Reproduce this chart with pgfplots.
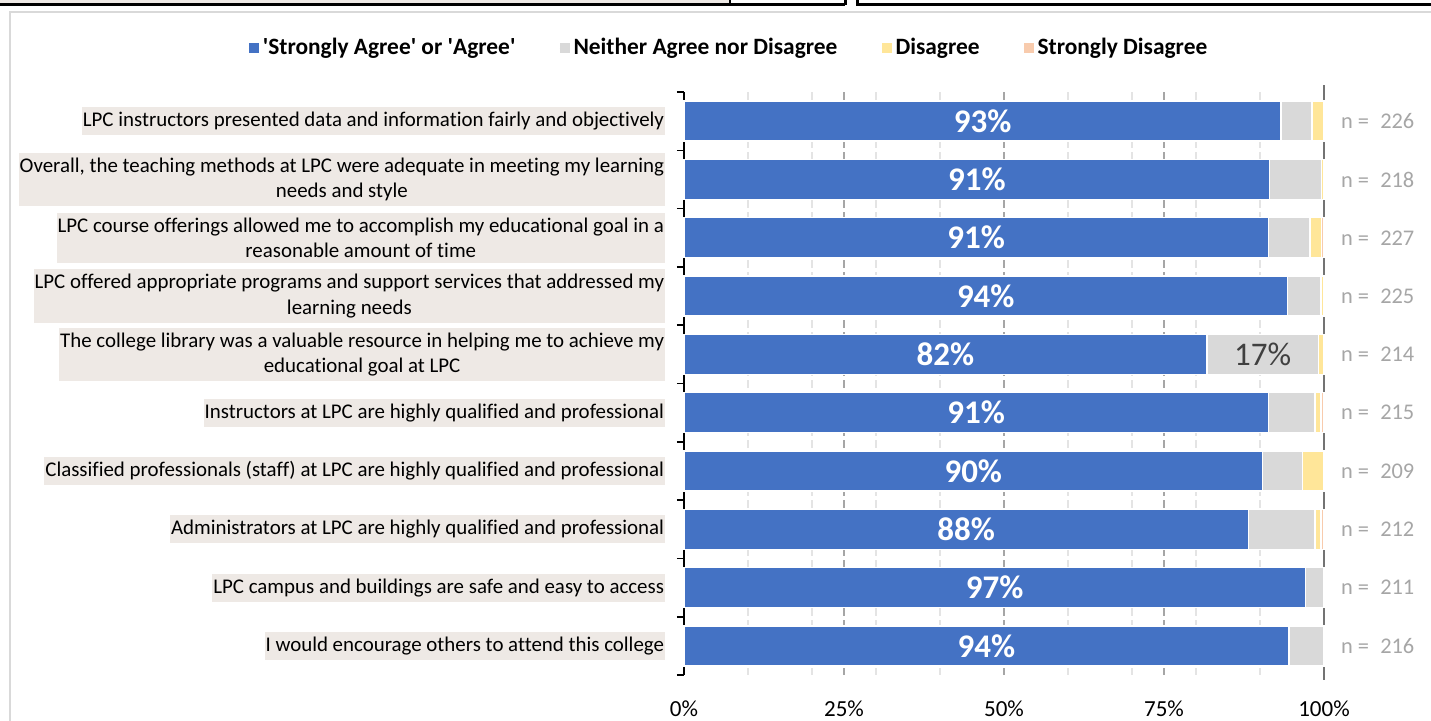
\documentclass[border=0pt]{standalone}
\usepackage{fontspec}
\setmainfont{Carlito}[Ligatures={NoCommon}]
\usepackage{pgfplots}
\pgfplotsset{compat=1.18}
\definecolor{cBlue}{HTML}{4472C4}
\definecolor{cGray}{HTML}{D9D9D9}
\definecolor{cYel}{HTML}{FFE699}
\definecolor{cOra}{HTML}{F8CBAD}
\definecolor{labbg}{HTML}{EEE9E5}
\definecolor{nGray}{HTML}{A6A6A6}
\begin{document}
\begin{tikzpicture}
\useasboundingbox (0,0) rectangle (715.5pt,-360.5pt);
\begin{scope}[x=0.5pt,y=-0.5pt]
  % pieces of neighbouring objects at the top
  \fill[labbg] (0,0) rectangle (730,5);
  \draw[black,line width=1.5pt] (0,5) -- (845,5);
  \draw[black,line width=1pt] (730,0) -- (730,5);
  \draw[black,line width=1.5pt] (845,0) -- (845,5);
  \draw[black,line width=1.5pt] (857,0) -- (857,5) -- (1431,5);
  % chart frame
  \draw[cGray,line width=1pt] (10,721) -- (10,12) -- (1431,12);
\end{scope}
\begin{axis}[
  at={(342pt,-46pt)}, anchor=north west,
  scale only axis, width=320pt, height=291.5pt,
  xbar stacked, bar width=20pt,
  xmin=0, xmax=100, ymin=-0.5, ymax=9.5, y dir=reverse,
  clip=false,
  axis y line*=left, axis x line*=bottom,
  x axis line style={draw=none},
  y axis line style={black, line width=0.8pt},
  xtick={0,25,50,75,100},
  xticklabels={0\%,25\%,50\%,75\%,100\%},
  minor xtick={10,20,30,40,60,70,80,90},
  xmajorgrids, xminorgrids,
  major x grid style={nGray, line width=0.6pt, dash pattern=on 4pt off 2pt},
  minor x grid style={cGray!70, line width=0.6pt, dash pattern=on 4pt off 2pt},
  major x tick style={draw=none}, minor x tick style={draw=none},
  xticklabel style={font=\fontsize{11.5}{13}\selectfont, yshift=-5pt},
  ytick={0,...,9},
  minor ytick={-0.5,0.5,...,9.5},
  major y tick style={draw=none},
  minor y tick style={black, line width=0.8pt},
  minor tick length=3.5pt,
  tick align=outside,
  yticklabels={
    LPC instructors presented data and information fairly and objectively,
    {Overall, the teaching methods at LPC were adequate in meeting my learning\\needs and style},
    LPC course offerings allowed me to accomplish my educational goal in a\\reasonable amount of time,
    LPC offered appropriate programs and support services that addressed my\\learning needs,
    The college library was a valuable resource in helping me to achieve my\\educational goal at LPC,
    Instructors at LPC are highly qualified and professional,
    Classified professionals (staff) at LPC are highly qualified and professional,
    Administrators at LPC are highly qualified and professional,
    LPC campus and buildings are safe and easy to access,
    I would encourage others to attend this college},
  yticklabel style={font=\fontsize{10.45}{12.6}\selectfont, align=center, fill=labbg,
    inner xsep=0.5pt, inner ysep=2.5pt, anchor=east, xshift=-5pt},
  legend columns=4,
  legend style={draw=none, fill=none, at={(0.072,1.075)}, anchor=center,
    font=\bfseries\fontsize{11.7}{13}\selectfont,
    /tikz/every even column/.append style={column sep=20pt}},
  legend image code/.code={\fill[#1] (0pt,-2.5pt) rectangle (5pt,2.5pt);
    \path (0pt,0pt) -- (5pt,0pt);},
]
\addlegendimage{fill=cBlue, draw=none}
\addlegendimage{fill=cGray, draw=none}
\addlegendimage{fill=cYel, draw=none}
\addlegendimage{fill=cOra, draw=none}
\addplot[forget plot, fill=cBlue, draw=white, line width=0.7pt,
  point meta=explicit symbolic, nodes near coords,
  every node near coord/.append style={text=white, font=\bfseries\fontsize{16.5}{18}\selectfont}]
 coordinates {
 (93.3,0) [93\%] (91.5,1) [91\%] (91.3,2) [91\%] (94.3,3) [94\%] (81.7,4) [82\%]
 (91.3,5) [91\%] (90.4,6) [90\%] (88.2,7) [88\%] (97.1,8) [97\%] (94.5,9) [94\%]};
\addplot[forget plot, fill=cGray, draw=white, line width=0.7pt,
  point meta=explicit symbolic, nodes near coords,
  every node near coord/.append style={text=black!75, font=\fontsize{16.5}{18}\selectfont}]
 coordinates {
 (4.8,0) [{}] (8.1,1) [{}] (6.5,2) [{}] (5.2,3) [{}] (17.4,4) [17\%]
 (7.3,5) [{}] (6.2,6) [{}] (10.4,7) [{}] (2.9,8) [{}] (5.5,9) [{}]};
\addplot[forget plot, fill=cYel, draw=white, line width=0.7pt] coordinates {
 (1.9,0) (0.4,1) (1.8,2) (0.5,3) (0.9,4) (0.9,5) (3.4,6) (0.9,7) (0,8) (0,9)};
\addplot[forget plot, fill=cOra, draw=white, line width=0.7pt] coordinates {
 (0,0) (0,1) (0.4,2) (0,3) (0,4) (0.5,5) (0,6) (0.5,7) (0,8) (0,9)};
\legend{\textquotesingle Strongly Agree\textquotesingle{} or \textquotesingle Agree\textquotesingle, Neither Agree nor Disagree, Disagree, Strongly Disagree}
\draw[black!55, line width=0.8pt] (axis cs:100,-0.62) -- (axis cs:100,9.58);
\end{axis}
% sample sizes on the right
\begin{axis}[
  at={(342pt,-46pt)}, anchor=north west,
  scale only axis, width=320pt, height=291.5pt,
  xmin=0, xmax=100, ymin=-0.5, ymax=9.5, y dir=reverse,
  axis y line*=right, axis x line=none,
  y axis line style={draw=none},
  ytick={0,...,9}, major tick length=0pt,
  yticklabels={n =\enspace 226, n =\enspace 218, n =\enspace 227, n =\enspace 225,
    n =\enspace 214, n =\enspace 215, n =\enspace 209, n =\enspace 212,
    n =\enspace 211, n =\enspace 216},
  yticklabel style={text=nGray, font=\fontsize{11.2}{13}\selectfont, anchor=west, xshift=5pt},
]
\addplot[draw=none] coordinates {(0,0)};
\end{axis}
\end{tikzpicture}
\end{document}
